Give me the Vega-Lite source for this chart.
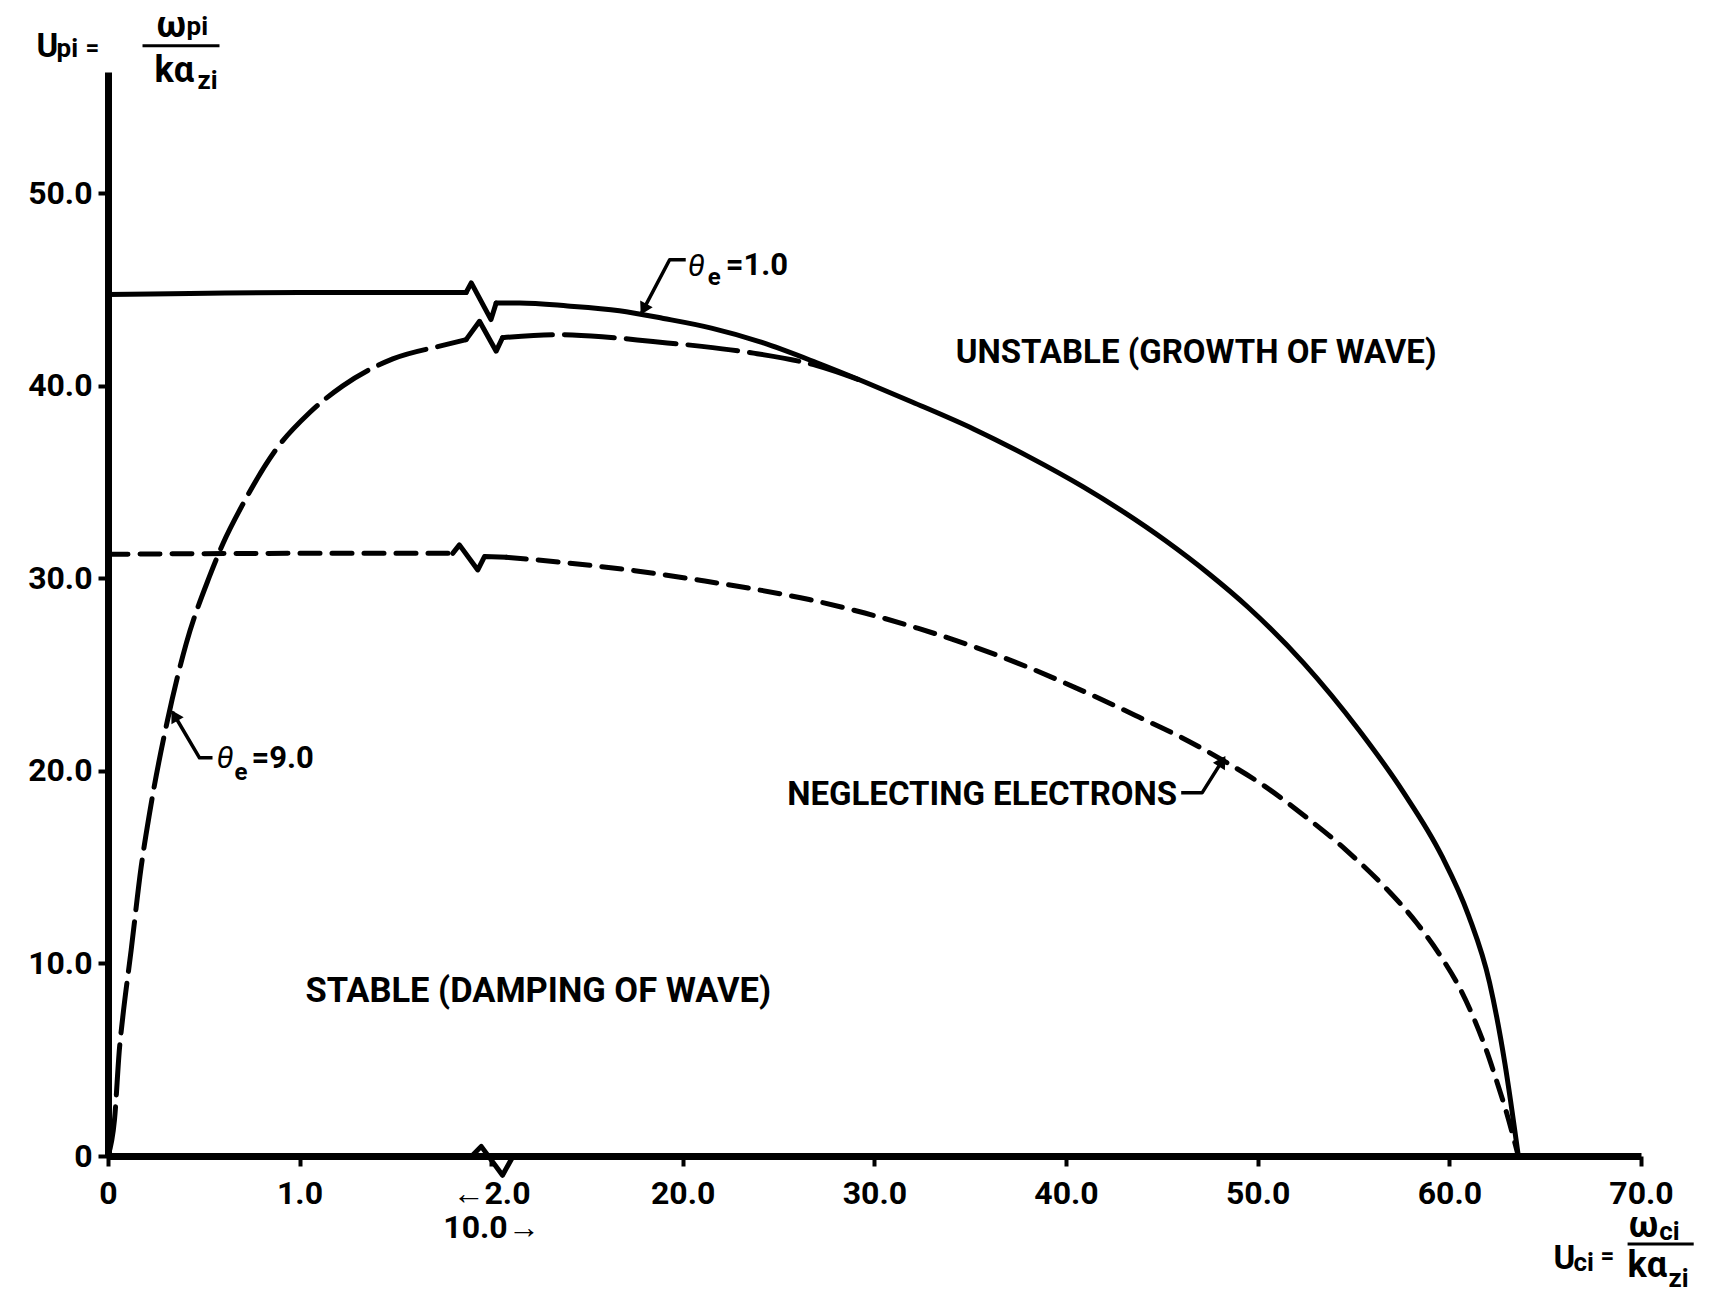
{
  "$schema": "https://vega.github.io/schema/vega-lite/v6.json",
  "autosize": "none",
  "width": 1533,
  "height": 1084,
  "padding": {"left": 108, "top": 72, "right": 83, "bottom": 138},
  "background": "white",
  "config": {
    "view": {"stroke": null},
    "axis": {
      "grid": false,
      "title": null,
      "domainColor": "black",
      "domainWidth": 7,
      "tickColor": "black",
      "tickWidth": 4,
      "tickSize": 10,
      "labelColor": "black",
      "labelFont": "Roboto",
      "labelFontWeight": "bold",
      "labelFontSize": 32,
      "labelOverlap": false,
      "labelFlush": false
    },
    "text": {"font": "Roboto", "fontWeight": "bold", "color": "black", "baseline": "alphabetic", "align": "left"}
  },
  "encoding": {
    "x": {
      "field": "x",
      "type": "quantitative",
      "scale": {"domain": [0, 2, 10, 70], "range": [0, 383, 383, 1533], "nice": false, "zero": false},
      "axis": {
        "values": [0, 1, 2, 20, 30, 40, 50, 60, 70],
        "labelExpr": "datum.value == 2 ? ['←2.0\u2007', '\u200710.0→'] : datum.value == 0 ? '0' : format(datum.value, '.1f')",
        "labelPadding": 12,
        "labelLineHeight": 34
      }
    },
    "y": {
      "field": "y",
      "type": "quantitative",
      "scale": {"domain": [0, 56.3], "nice": false, "zero": false},
      "axis": {
        "values": [0, 10, 20, 30, 40, 50],
        "labelExpr": "datum.value == 0 ? '0' : format(datum.value, '.1f')",
        "labelPadding": 6
      }
    }
  },
  "datasets": {
    "curves": [
      {"series": "theta_e = 1.0", "part": "left", "x": 0, "y": 44.75},
      {"series": "theta_e = 1.0", "part": "left", "x": 1.0, "y": 44.85},
      {"series": "theta_e = 1.0", "part": "left", "x": 1.87, "y": 44.85},
      {"series": "theta_e = 1.0", "part": "break", "x": 1.87, "y": 44.85},
      {"series": "theta_e = 1.0", "part": "break", "x": 1.897, "y": 45.35},
      {"series": "theta_e = 1.0", "part": "break", "x": 10.0, "y": 43.44},
      {"series": "theta_e = 1.0", "part": "break", "x": 10.27, "y": 44.3},
      {"series": "theta_e = 1.0", "part": "right", "x": 10.27, "y": 44.3},
      {"series": "theta_e = 1.0", "part": "right", "x": 11.5, "y": 44.3},
      {"series": "theta_e = 1.0", "part": "right", "x": 14.0, "y": 44.15},
      {"series": "theta_e = 1.0", "part": "right", "x": 16.7, "y": 43.9},
      {"series": "theta_e = 1.0", "part": "right", "x": 19.0, "y": 43.5},
      {"series": "theta_e = 1.0", "part": "right", "x": 21.5, "y": 43.0},
      {"series": "theta_e = 1.0", "part": "right", "x": 24.0, "y": 42.3},
      {"series": "theta_e = 1.0", "part": "right", "x": 27.0, "y": 41.2},
      {"series": "theta_e = 1.0", "part": "right", "x": 29.5, "y": 40.2},
      {"series": "theta_e = 1.0", "part": "right", "x": 32.0, "y": 39.15},
      {"series": "theta_e = 1.0", "part": "right", "x": 35.2, "y": 37.75},
      {"series": "theta_e = 1.0", "part": "right", "x": 38.0, "y": 36.35},
      {"series": "theta_e = 1.0", "part": "right", "x": 40.9, "y": 34.75},
      {"series": "theta_e = 1.0", "part": "right", "x": 43.0, "y": 33.45},
      {"series": "theta_e = 1.0", "part": "right", "x": 45.2, "y": 31.95},
      {"series": "theta_e = 1.0", "part": "right", "x": 47.5, "y": 30.2},
      {"series": "theta_e = 1.0", "part": "right", "x": 49.5, "y": 28.5},
      {"series": "theta_e = 1.0", "part": "right", "x": 52.4, "y": 25.6},
      {"series": "theta_e = 1.0", "part": "right", "x": 55.3, "y": 22.1},
      {"series": "theta_e = 1.0", "part": "right", "x": 57.6, "y": 18.9},
      {"series": "theta_e = 1.0", "part": "right", "x": 59.6, "y": 15.6},
      {"series": "theta_e = 1.0", "part": "right", "x": 61.0, "y": 12.5},
      {"series": "theta_e = 1.0", "part": "right", "x": 62.1, "y": 9.0},
      {"series": "theta_e = 1.0", "part": "right", "x": 62.9, "y": 4.8},
      {"series": "theta_e = 1.0", "part": "right", "x": 63.6, "y": 0},
      {"series": "axis break", "part": "break", "x": 1.90, "y": 0},
      {"series": "axis break", "part": "break", "x": 1.949, "y": 0.5},
      {"series": "axis break", "part": "break", "x": 10.6, "y": -1.0},
      {"series": "axis break", "part": "break", "x": 11.1, "y": -0.1},
      {"series": "axis break", "part": "break", "x": 11.4, "y": 0},
      {"series": "theta_e = 9.0", "part": "left", "x": 0, "y": 0},
      {"series": "theta_e = 9.0", "part": "left", "x": 0.034, "y": 1.9},
      {"series": "theta_e = 9.0", "part": "left", "x": 0.06, "y": 5.6},
      {"series": "theta_e = 9.0", "part": "left", "x": 0.077, "y": 7.2},
      {"series": "theta_e = 9.0", "part": "left", "x": 0.121, "y": 10.7},
      {"series": "theta_e = 9.0", "part": "left", "x": 0.173, "y": 15.0},
      {"series": "theta_e = 9.0", "part": "left", "x": 0.217, "y": 17.8},
      {"series": "theta_e = 9.0", "part": "left", "x": 0.31, "y": 22.6},
      {"series": "theta_e = 9.0", "part": "left", "x": 0.408, "y": 26.6},
      {"series": "theta_e = 9.0", "part": "left", "x": 0.53, "y": 30.1},
      {"series": "theta_e = 9.0", "part": "left", "x": 0.6, "y": 31.8},
      {"series": "theta_e = 9.0", "part": "left", "x": 0.704, "y": 33.85},
      {"series": "theta_e = 9.0", "part": "left", "x": 0.878, "y": 36.7},
      {"series": "theta_e = 9.0", "part": "left", "x": 1.052, "y": 38.6},
      {"series": "theta_e = 9.0", "part": "left", "x": 1.226, "y": 40.0},
      {"series": "theta_e = 9.0", "part": "left", "x": 1.487, "y": 41.4},
      {"series": "theta_e = 9.0", "part": "left", "x": 1.748, "y": 42.1},
      {"series": "theta_e = 9.0", "part": "left", "x": 1.87, "y": 42.4},
      {"series": "theta_e = 9.0", "part": "break", "x": 1.87, "y": 42.4},
      {"series": "theta_e = 9.0", "part": "break", "x": 1.94, "y": 43.35},
      {"series": "theta_e = 9.0", "part": "break", "x": 10.27, "y": 41.8},
      {"series": "theta_e = 9.0", "part": "break", "x": 10.6, "y": 42.5},
      {"series": "theta_e = 9.0", "part": "right", "x": 10.6, "y": 42.5},
      {"series": "theta_e = 9.0", "part": "right", "x": 13.2, "y": 42.66},
      {"series": "theta_e = 9.0", "part": "right", "x": 15.8, "y": 42.55},
      {"series": "theta_e = 9.0", "part": "right", "x": 18.45, "y": 42.3},
      {"series": "theta_e = 9.0", "part": "right", "x": 21.0, "y": 42.05},
      {"series": "theta_e = 9.0", "part": "right", "x": 23.7, "y": 41.7},
      {"series": "theta_e = 9.0", "part": "right", "x": 27.0, "y": 41.05},
      {"series": "theta_e = 9.0", "part": "right", "x": 29.5, "y": 40.2},
      {"series": "neglecting electrons", "part": "left", "x": 0, "y": 31.25},
      {"series": "neglecting electrons", "part": "left", "x": 1.0, "y": 31.3},
      {"series": "neglecting electrons", "part": "left", "x": 1.8, "y": 31.3},
      {"series": "neglecting electrons", "part": "break", "x": 1.8, "y": 31.3},
      {"series": "neglecting electrons", "part": "break", "x": 1.835, "y": 31.74},
      {"series": "neglecting electrons", "part": "break", "x": 1.931, "y": 30.44},
      {"series": "neglecting electrons", "part": "break", "x": 1.966, "y": 31.13},
      {"series": "neglecting electrons", "part": "break", "x": 10.8, "y": 31.1},
      {"series": "neglecting electrons", "part": "right", "x": 10.8, "y": 31.1},
      {"series": "neglecting electrons", "part": "right", "x": 14.0, "y": 30.8},
      {"series": "neglecting electrons", "part": "right", "x": 17.5, "y": 30.4},
      {"series": "neglecting electrons", "part": "right", "x": 20.9, "y": 29.9},
      {"series": "neglecting electrons", "part": "right", "x": 23.7, "y": 29.45},
      {"series": "neglecting electrons", "part": "right", "x": 26.6, "y": 28.9},
      {"series": "neglecting electrons", "part": "right", "x": 29.5, "y": 28.2},
      {"series": "neglecting electrons", "part": "right", "x": 32.3, "y": 27.4},
      {"series": "neglecting electrons", "part": "right", "x": 35.2, "y": 26.45},
      {"series": "neglecting electrons", "part": "right", "x": 38.1, "y": 25.35},
      {"series": "neglecting electrons", "part": "right", "x": 41.0, "y": 24.1},
      {"series": "neglecting electrons", "part": "right", "x": 43.8, "y": 22.8},
      {"series": "neglecting electrons", "part": "right", "x": 46.0, "y": 21.75},
      {"series": "neglecting electrons", "part": "right", "x": 48.1, "y": 20.6},
      {"series": "neglecting electrons", "part": "right", "x": 50.3, "y": 19.25},
      {"series": "neglecting electrons", "part": "right", "x": 52.4, "y": 17.7},
      {"series": "neglecting electrons", "part": "right", "x": 54.6, "y": 15.9},
      {"series": "neglecting electrons", "part": "right", "x": 56.7, "y": 13.9},
      {"series": "neglecting electrons", "part": "right", "x": 58.3, "y": 12.1},
      {"series": "neglecting electrons", "part": "right", "x": 59.6, "y": 10.3},
      {"series": "neglecting electrons", "part": "right", "x": 60.5, "y": 8.8},
      {"series": "neglecting electrons", "part": "right", "x": 61.3, "y": 7.1},
      {"series": "neglecting electrons", "part": "right", "x": 62.0, "y": 5.3},
      {"series": "neglecting electrons", "part": "right", "x": 62.4, "y": 4.1},
      {"series": "neglecting electrons", "part": "right", "x": 63.0, "y": 2.2},
      {"series": "neglecting electrons", "part": "right", "x": 63.6, "y": 0}
    ],
    "leaders": [
      {"id": "theta_e = 1.0", "x": 20.16, "y": 46.55},
      {"id": "theta_e = 1.0", "x": 19.32, "y": 46.55},
      {"id": "theta_e = 1.0", "x": 17.86, "y": 43.79},
      {"id": "theta_e = 9.0", "x": 0.5457, "y": 20.68},
      {"id": "theta_e = 9.0", "x": 0.4778, "y": 20.68},
      {"id": "theta_e = 9.0", "x": 0.3368, "y": 23.06},
      {"id": "neglecting", "x": 46.01, "y": 18.86},
      {"id": "neglecting", "x": 47.1, "y": 18.86},
      {"id": "neglecting", "x": 48.25, "y": 20.68}
    ]
  },
  "layer": [
    {
      "data": {"name": "curves"},
      "transform": [{"filter": "datum.series == 'theta_e = 1.0' && datum.part != 'break'"}],
      "mark": {"type": "line", "color": "black", "strokeWidth": 5, "strokeCap": "round", "strokeJoin": "round", "interpolate": "monotone"},
      "encoding": {"detail": {"field": "part"}}
    },
    {
      "data": {"name": "curves"},
      "transform": [{"filter": "datum.series == 'theta_e = 9.0' && datum.part != 'break'"}],
      "mark": {"type": "line", "color": "black", "strokeWidth": 5, "strokeCap": "round", "strokeJoin": "round", "strokeDash": [50, 12], "interpolate": "monotone"},
      "encoding": {"detail": {"field": "part"}}
    },
    {
      "data": {"name": "curves"},
      "transform": [{"filter": "datum.series == 'neglecting electrons' && datum.part != 'break'"}],
      "mark": {"type": "line", "color": "black", "strokeWidth": 5, "strokeCap": "round", "strokeJoin": "round", "strokeDash": [20, 12], "interpolate": "monotone"},
      "encoding": {"detail": {"field": "part"}}
    },
    {
      "data": {"name": "curves"},
      "transform": [{"filter": "datum.part == 'break'"}],
      "mark": {"type": "line", "color": "black", "strokeWidth": 5, "strokeCap": "round", "strokeJoin": "round"},
      "encoding": {"detail": {"field": "series"}}
    },
    {
      "data": {"name": "leaders"},
      "mark": {"type": "line", "color": "black", "strokeWidth": 3.5, "strokeJoin": "round"},
      "encoding": {"detail": {"field": "id"}}
    },
    {
      "data": {"values": [{"x": 18.01, "y": 44.07}]},
      "mark": {"type": "point", "shape": "triangle", "filled": true, "color": "black", "size": 200, "angle": 208, "opacity": 1}
    },
    {
      "data": {"values": [{"x": 0.3525, "y": 22.79}]},
      "mark": {"type": "point", "shape": "triangle", "filled": true, "color": "black", "size": 200, "angle": 330, "opacity": 1}
    },
    {
      "data": {"values": [{"x": 48.09, "y": 20.41}]},
      "mark": {"type": "point", "shape": "triangle", "filled": true, "color": "black", "size": 200, "angle": 32, "opacity": 1}
    },
    {
      "data": {"values": [{"x": 46.79, "y": 41.21, "t": "UNSTABLE (GROWTH OF WAVE)"}]},
      "mark": {"type": "text", "fontSize": 33, "align": "center"},
      "encoding": {"text": {"field": "t"}}
    },
    {
      "data": {"values": [{"x": 1.031, "y": 8.0, "t": "STABLE (DAMPING OF WAVE)"}]},
      "mark": {"type": "text", "fontSize": 34.5, "align": "left"},
      "encoding": {"text": {"field": "t"}}
    },
    {
      "data": {"values": [{"x": 45.8, "y": 18.23, "t": "NEGLECTING ELECTRONS"}]},
      "mark": {"type": "text", "fontSize": 33, "align": "right"},
      "encoding": {"text": {"field": "t"}}
    },
    {
      "data": {"values": [{"x": 20.27, "y": 45.7, "t": "θ"}, {"x": 0.5666, "y": 20.16, "t": "θ"}]},
      "mark": {"type": "text", "fontSize": 31, "fontStyle": "italic", "fontWeight": "normal"},
      "encoding": {"text": {"field": "t"}}
    },
    {
      "data": {"values": [{"x": 21.31, "y": 45.25, "t": "e"}, {"x": 0.6606, "y": 19.53, "t": "e"}]},
      "mark": {"type": "text", "fontSize": 24},
      "encoding": {"text": {"field": "t"}}
    },
    {
      "data": {"values": [{"x": 22.25, "y": 45.77, "t": "=1.0"}, {"x": 0.7493, "y": 20.16, "t": "=9.0"}]},
      "mark": {"type": "text", "fontSize": 31},
      "encoding": {"text": {"field": "t"}}
    },
    {
      "data": {"values": [{"x": -0.3734, "y": 57.09, "t": "U"}, {"x": 65.44, "y": -5.85, "t": "U"}]},
      "mark": {"type": "text", "fontSize": 33},
      "encoding": {"text": {"field": "t"}}
    },
    {
      "data": {"values": [
        {"x": -0.2689, "y": 57.09, "t": "pi"},
        {"x": 66.48, "y": -5.95, "t": "ci"},
        {"x": 0.41, "y": 58.23, "t": "pi"},
        {"x": 70.95, "y": -4.36, "t": "ci"},
        {"x": 0.4674, "y": 55.43, "t": "zi"},
        {"x": 71.44, "y": -6.81, "t": "zi"}
      ]},
      "mark": {"type": "text", "fontSize": 26},
      "encoding": {"text": {"field": "t"}}
    },
    {
      "data": {"values": [
        {"x": 0.2533, "y": 58.13, "t": "ω"},
        {"x": 0.2428, "y": 55.79, "t": "kα"},
        {"x": 69.36, "y": -4.21, "t": "ω"},
        {"x": 69.3, "y": -6.29, "t": "kα"}
      ]},
      "mark": {"type": "text", "fontSize": 36},
      "encoding": {"text": {"field": "t"}}
    },
    {
      "data": {"values": [{"x": -0.1175, "y": 57.14, "t": "="}, {"x": 67.89, "y": -5.6, "t": "="}]},
      "mark": {"type": "text", "fontSize": 24},
      "encoding": {"text": {"field": "t"}}
    },
    {
      "data": {"values": [{"x": 0.1802, "x2": 0.5822, "y": 57.66}, {"x": 69.3, "x2": 72.75, "y": -4.57}]},
      "mark": {"type": "rule", "color": "black", "strokeWidth": 3},
      "encoding": {"x2": {"field": "x2"}}
    }
  ]
}
